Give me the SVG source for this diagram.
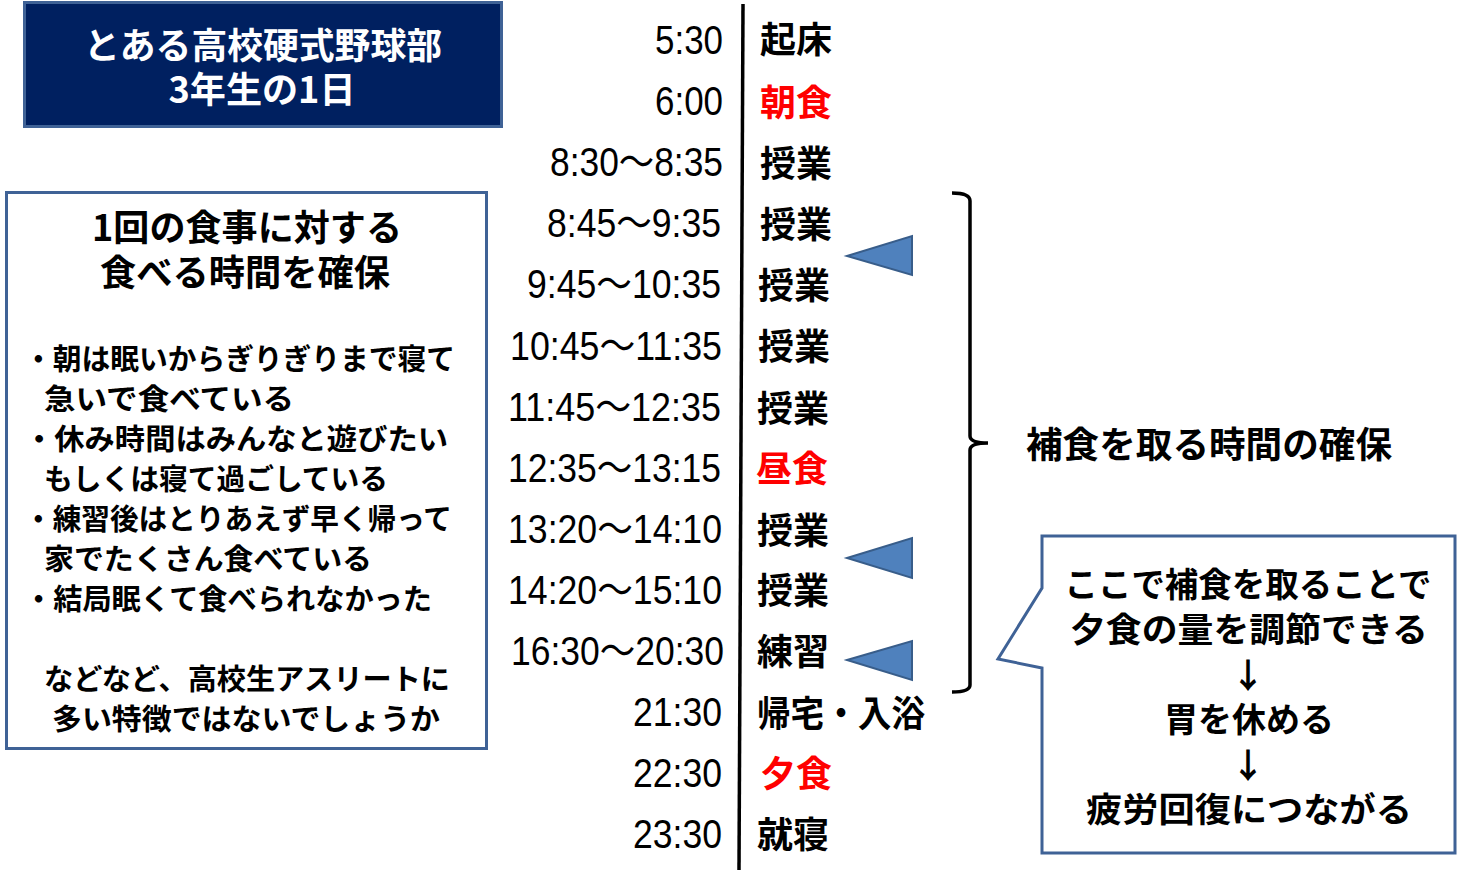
<svg xmlns="http://www.w3.org/2000/svg" width="1457" height="876" viewBox="0 0 1457 876">
<style>
.jp{font-family:"Noto Sans CJK JP","Liberation Sans",sans-serif;}
.b{font-weight:bold;}
.tm{font-family:"Liberation Sans","Noto Sans CJK JP",sans-serif;font-size:40px;fill:#000;text-anchor:end;}
.act{font-family:"Noto Sans CJK JP",sans-serif;font-size:36px;font-weight:bold;fill:#000;}
.red{fill:#ff0000;}
.box{fill:#fff;stroke:#3f6296;stroke-width:3;}
.tri{fill:#4f81bd;stroke:#385d8a;stroke-width:2;stroke-linejoin:miter;}
.lt{font-family:"Noto Sans CJK JP",sans-serif;font-size:29px;font-weight:bold;fill:#000;}
.rt{font-family:"Noto Sans CJK JP",sans-serif;font-size:34px;font-weight:bold;fill:#000;text-anchor:middle;}
</style>
<rect width="1457" height="876" fill="#fff"/>

<g id="title">
<rect x="24.5" y="2.5" width="477" height="124" fill="#002060" stroke="#3f6296" stroke-width="3"/>
<text class="jp" x="263" y="59" font-size="36" font-weight="bold" fill="#fff" text-anchor="middle" textLength="358" lengthAdjust="spacingAndGlyphs">とある高校硬式野球部</text>
<text class="jp" x="262" y="103" font-size="36" font-weight="bold" fill="#fff" text-anchor="middle" textLength="187" lengthAdjust="spacingAndGlyphs">3年生の1日</text>
</g>

<g id="left-box">
<rect class="box" x="6.5" y="192.5" width="480" height="556"/>
<text class="jp b" x="247" y="241" font-size="36" text-anchor="middle" textLength="310" lengthAdjust="spacingAndGlyphs">1回の食事に対する</text>
<text class="jp b" x="245" y="286" font-size="36" text-anchor="middle" textLength="290" lengthAdjust="spacingAndGlyphs">食べる時間を確保</text>
<text class="lt" x="24" y="370" textLength="431" lengthAdjust="spacingAndGlyphs">・朝は眠いからぎりぎりまで寝て</text>
<text class="lt" x="44" y="410" textLength="250" lengthAdjust="spacingAndGlyphs">急いで食べている</text>
<text class="lt" x="24" y="450" textLength="424" lengthAdjust="spacingAndGlyphs">・休み時間はみんなと遊びたい</text>
<text class="lt" x="44" y="490" textLength="344" lengthAdjust="spacingAndGlyphs">もしくは寝て過ごしている</text>
<text class="lt" x="24" y="530" textLength="428" lengthAdjust="spacingAndGlyphs">・練習後はとりあえず早く帰って</text>
<text class="lt" x="44" y="570" textLength="328" lengthAdjust="spacingAndGlyphs">家でたくさん食べている</text>
<text class="lt" x="24" y="610" textLength="408" lengthAdjust="spacingAndGlyphs">・結局眠くて食べられなかった</text>
<text class="lt" x="44" y="690" textLength="406" lengthAdjust="spacingAndGlyphs">などなど、高校生アスリートに</text>
<text class="lt" x="52" y="730" textLength="388" lengthAdjust="spacingAndGlyphs">多い特徴ではないでしょうか</text>
</g>

<g id="connectors">
<line x1="743" y1="4" x2="739" y2="870" stroke="#000" stroke-width="3.5"/>
<path d="M952,193 Q970,193 970,201 L970,436 Q970,443 988,443 M988,443 Q970,443 970,450 L970,685 Q970,692 952,692" fill="none" stroke="#000" stroke-width="3.5"/>
</g>

<g id="times">
<text class="tm" x="723" y="54" textLength="68" lengthAdjust="spacingAndGlyphs">5:30</text>
<text class="tm" x="723" y="115" textLength="68" lengthAdjust="spacingAndGlyphs">6:00</text>
<text class="tm" x="723" y="176" textLength="173" lengthAdjust="spacingAndGlyphs">8:30～8:35</text>
<text class="tm" x="721" y="237" textLength="174" lengthAdjust="spacingAndGlyphs">8:45～9:35</text>
<text class="tm" x="721" y="298" textLength="194" lengthAdjust="spacingAndGlyphs">9:45～10:35</text>
<text class="tm" x="722" y="360" textLength="212" lengthAdjust="spacingAndGlyphs">10:45～11:35</text>
<text class="tm" x="721" y="421" textLength="213" lengthAdjust="spacingAndGlyphs">11:45～12:35</text>
<text class="tm" x="721" y="482" textLength="213" lengthAdjust="spacingAndGlyphs">12:35～13:15</text>
<text class="tm" x="722" y="543" textLength="214" lengthAdjust="spacingAndGlyphs">13:20～14:10</text>
<text class="tm" x="722" y="604" textLength="214" lengthAdjust="spacingAndGlyphs">14:20～15:10</text>
<text class="tm" x="724" y="665" textLength="213" lengthAdjust="spacingAndGlyphs">16:30～20:30</text>
<text class="tm" x="722" y="726" textLength="89" lengthAdjust="spacingAndGlyphs">21:30</text>
<text class="tm" x="722" y="787" textLength="89" lengthAdjust="spacingAndGlyphs">22:30</text>
<text class="tm" x="722" y="848" textLength="89" lengthAdjust="spacingAndGlyphs">23:30</text>
</g>

<g id="activities">
<text class="act" x="760" y="53">起床</text>
<text class="act red" x="760" y="116">朝食</text>
<text class="act" x="760" y="177">授業</text>
<text class="act" x="760" y="238">授業</text>
<text class="act" x="758" y="299">授業</text>
<text class="act" x="758" y="360">授業</text>
<text class="act" x="757" y="422">授業</text>
<text class="act red" x="756" y="482">昼食</text>
<text class="act" x="757" y="544">授業</text>
<text class="act" x="757" y="604">授業</text>
<text class="act" x="757" y="665">練習</text>
<text class="act" x="757" y="727" textLength="168" lengthAdjust="spacingAndGlyphs">帰宅・入浴</text>
<text class="act red" x="760" y="787">夕食</text>
<text class="act" x="757" y="848">就寝</text>
</g>

<g id="markers">
<polygon class="tri" points="847,256 912,236 912,275"/>
<polygon class="tri" points="847,558 912,538 912,578"/>
<polygon class="tri" points="847,660 912,641 912,680"/>
</g>

<g id="bracket-label">
<text class="jp b" x="1026" y="458" font-size="36" textLength="366" lengthAdjust="spacingAndGlyphs">補食を取る時間の確保</text>
</g>

<g id="callout">
<path class="box" d="M1042,536 H1455 V853 H1042 V668 L998,659 L1042,588 Z"/>
<text class="rt" x="1248" y="597" textLength="367" lengthAdjust="spacingAndGlyphs">ここで補食を取ることで</text>
<text class="rt" x="1249" y="642" textLength="358" lengthAdjust="spacingAndGlyphs">夕食の量を調節できる</text>
<text class="rt" x="1248" y="688">↓</text>
<text class="rt" x="1249" y="732">胃を休める</text>
<text class="rt" x="1248" y="778">↓</text>
<text class="rt" x="1249" y="822" textLength="326" lengthAdjust="spacingAndGlyphs">疲労回復につながる</text>
</g>
</svg>
